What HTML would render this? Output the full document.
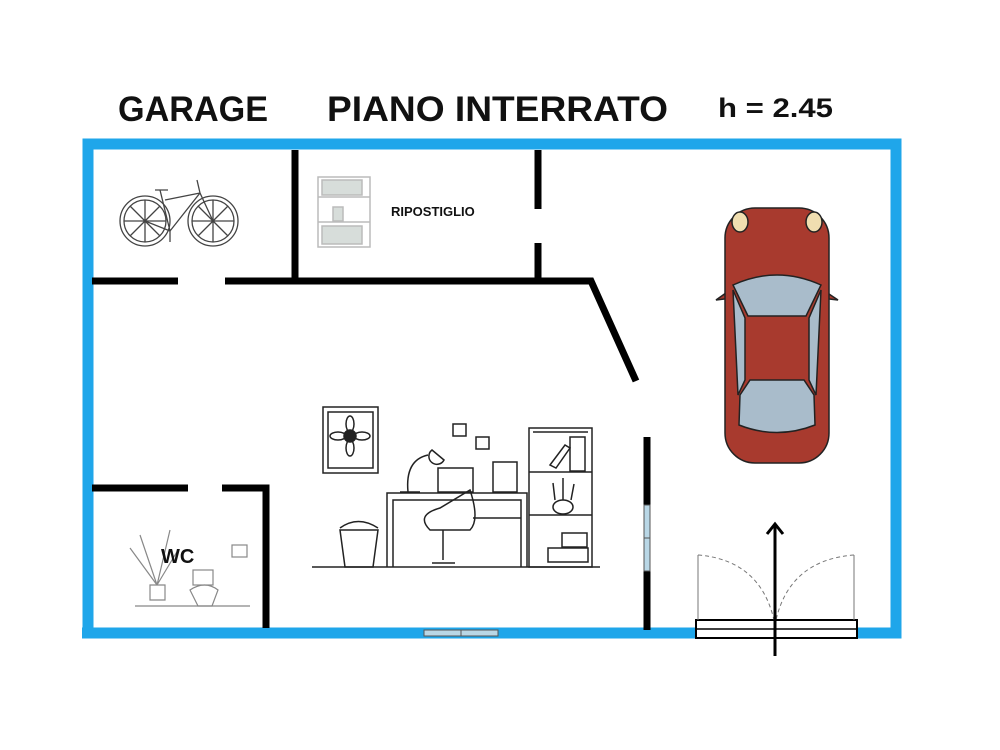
<!DOCTYPE html>
<html><head><meta charset="utf-8"><style>
html,body{margin:0;padding:0;background:#fff;}
svg{display:block;}
text{font-family:"Liberation Sans",sans-serif;font-weight:bold;fill:#111;}
</style></head><body>
<svg width="1000" height="750" viewBox="0 0 1000 750" xmlns="http://www.w3.org/2000/svg">
<rect width="1000" height="750" fill="#fff"/>
<text x="118" y="121" font-size="35" textLength="150" lengthAdjust="spacingAndGlyphs">GARAGE</text>
<text x="327" y="121" font-size="35" textLength="341" lengthAdjust="spacingAndGlyphs">PIANO INTERRATO</text>
<text x="718" y="117" font-size="27" textLength="115" lengthAdjust="spacingAndGlyphs">h = 2.45</text>

<!-- outer blue walls -->
<path d="M88 633 L88 144 L896 144 L896 633 L857 633 M695 633 L82 633" fill="none" stroke="#1fa6ea" stroke-width="11"/>

<!-- interior walls -->
<g stroke="#000" stroke-width="7" fill="none">
<line x1="92" y1="281" x2="178" y2="281"/>
<path d="M225 281 L591 281 L636 381"/>
<line x1="295" y1="150" x2="295" y2="281"/>
<line x1="538" y1="150" x2="538" y2="209"/>
<line x1="538" y1="243" x2="538" y2="281"/>
<line x1="647" y1="437" x2="647" y2="630"/>
<line x1="92" y1="488" x2="188" y2="488"/>
<path d="M222 488 L266 488 L266 628"/>
</g>
<!-- windows -->
<rect x="644" y="505" width="6" height="66" fill="#b9d7e6" stroke="#555" stroke-width="1"/>
<line x1="644" y1="538" x2="650" y2="538" stroke="#555"/>
<rect x="424" y="630" width="74" height="6" fill="#b9d7e6" stroke="#555" stroke-width="1"/>
<line x1="461" y1="630" x2="461" y2="636" stroke="#555"/>

<!-- garage door -->
<rect x="696" y="620" width="161" height="18" fill="#fff" stroke="#000" stroke-width="2"/>
<line x1="696" y1="629" x2="857" y2="629" stroke="#000" stroke-width="1.5"/>
<g stroke="#777" stroke-width="1" fill="none">
<line x1="698" y1="555" x2="698" y2="620"/>
<line x1="854" y1="555" x2="854" y2="620"/>
<path d="M698 555 Q760 560 774 620" stroke-dasharray="4 3"/>
<path d="M854 555 Q790 560 776 620" stroke-dasharray="4 3"/>
</g>
<line x1="775" y1="656" x2="775" y2="526" stroke="#000" stroke-width="3"/>
<path d="M767 534 L775 524 L783 534" fill="none" stroke="#000" stroke-width="3"/>

<!-- car -->
<g stroke="#222" stroke-width="1.5">
<path d="M716 300 L733 288 L733 298 Z M838 300 L820 288 L820 298 Z" fill="#a83a2e"/>
<rect x="725" y="208" width="104" height="255" rx="30" fill="#a83a2e"/>
<path d="M733 285 Q777 265 821 285 L806 316 L748 316 Z" fill="#a9bccb"/>
<path d="M740 395 L750 380 L804 380 L814 395 L815 425 Q777 440 739 425 Z" fill="#a9bccb"/>
<path d="M733 290 L745 318 L745 380 L738 395 Z M821 290 L809 318 L809 380 L816 395 Z" fill="#a9bccb"/>
<ellipse cx="740" cy="222" rx="8" ry="10" fill="#f0deb0"/>
<ellipse cx="814" cy="222" rx="8" ry="10" fill="#f0deb0"/>
</g>

<!-- bicycle -->
<g stroke="#444" stroke-width="1.3" fill="none">
<circle cx="145" cy="221" r="25"/><circle cx="145" cy="221" r="21"/>
<circle cx="213" cy="221" r="25"/><circle cx="213" cy="221" r="21"/>
<path d="M124 221 L166 221 M145 200 L145 242 M130 206 L160 236 M160 206 L130 236 M192 221 L234 221 M213 200 L213 242 M198 206 L228 236 M228 206 L198 236"/>
<path d="M145 221 L170 231 L200 193 L213 221 M170 231 L160 190 M155 190 L168 190 M200 193 L165 200 M200 193 L197 180"/>
<path d="M170 231 L170 242"/>
</g>

<!-- shelf -->
<g stroke="#bbb" stroke-width="1.5" fill="#d7ddda">
<rect x="318" y="177" width="52" height="70" fill="none"/>
<line x1="318" y1="197" x2="370" y2="197"/>
<line x1="318" y1="222" x2="370" y2="222"/>
<rect x="322" y="180" width="40" height="15"/>
<rect x="322" y="226" width="40" height="18"/>
<rect x="333" y="207" width="10" height="14"/>
</g>
<text x="391" y="216" font-size="13">RIPOSTIGLIO</text>

<!-- office illustration -->
<g stroke="#222" stroke-width="1.5" fill="none">
<rect x="323" y="407" width="55" height="66"/><rect x="328" y="412" width="45" height="56"/>
<circle cx="350" cy="436" r="6" fill="#222"/>
<ellipse cx="350" cy="424" rx="4" ry="8"/><ellipse cx="350" cy="448" rx="4" ry="8"/>
<ellipse cx="338" cy="436" rx="8" ry="4"/><ellipse cx="362" cy="436" rx="8" ry="4"/>
<rect x="453" y="424" width="13" height="12"/><rect x="476" y="437" width="13" height="12"/>
<line x1="312" y1="567" x2="600" y2="567"/>
<path d="M387 567 L387 493 L527 493 L527 567 M393 567 L393 500 L473 500"/>
<path d="M473 500 L521 500 L521 567 M473 518 L521 518"/>
<path d="M408 492 Q405 460 428 455 M432 450 a8 8 0 1 0 12 10 Z M400 492 L420 492"/>
<rect x="438" y="468" width="35" height="24"/>
<path d="M470 490 Q480 520 470 530 L430 530 Q415 515 440 508 Z"/>
<path d="M443 530 L443 560 M432 563 L455 563"/>
<rect x="493" y="462" width="24" height="30"/>
<path d="M340 530 L345 567 L373 567 L378 530 Z M340 528 Q358 515 378 528"/>
<rect x="529" y="428" width="63" height="139"/>
<line x1="529" y1="472" x2="592" y2="472"/><line x1="529" y1="515" x2="592" y2="515"/>
<line x1="533" y1="432" x2="588" y2="432"/>
<rect x="570" y="437" width="15" height="34"/>
<path d="M550 465 L565 445 L570 448 L556 468 Z"/>
<ellipse cx="563" cy="507" rx="10" ry="7"/><path d="M555 500 L553 483 M563 500 L563 478 M571 500 L574 484"/>
<rect x="548" y="548" width="40" height="14"/><rect x="562" y="533" width="25" height="14"/>
</g>

<!-- WC -->
<g stroke="#888" stroke-width="1.2" fill="none">
<path d="M150 600 L150 585 L165 585 L165 600 Z M157 585 L140 535 M157 585 L130 548 M157 585 L170 530 M157 585 L178 550"/>
<rect x="193" y="570" width="20" height="15"/>
<path d="M190 590 Q205 580 218 590 L212 606 L198 606 Z"/>
<line x1="135" y1="606" x2="250" y2="606"/>
<rect x="232" y="545" width="15" height="12"/>
</g>
<text x="161" y="563" font-size="20">WC</text>
</svg>
</body></html>
